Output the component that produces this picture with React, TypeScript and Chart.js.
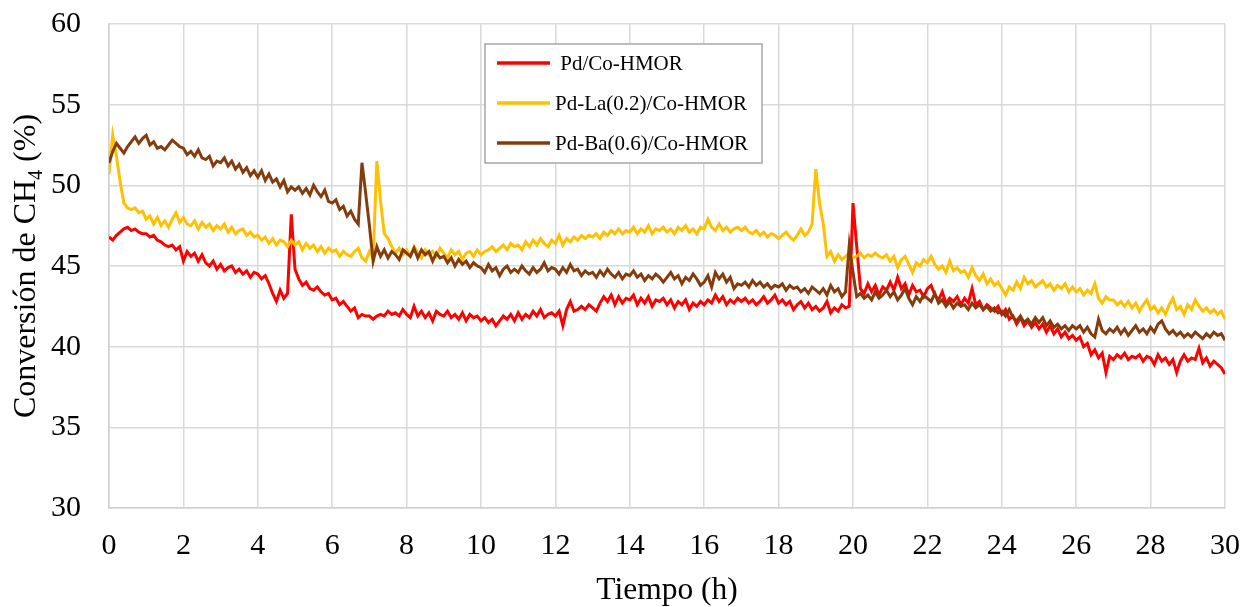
import { useEffect, useRef } from 'react';
import { Chart, registerables } from 'chart.js';

Chart.register(...registerables);

// Sampling grid: one reading every 0.1 h from 0 to 30 h
const hours: number[] = Array.from({ length: 301 }, (_, i) => Math.round(i) / 10);

const xTicks = [0, 2, 4, 6, 8, 10, 12, 14, 16, 18, 20, 22, 24, 26, 28, 30];
const yTicks = [30, 35, 40, 45, 50, 55, 60];

const seriesNames = [' Pd/Co-HMOR', 'Pd-La(0.2)/Co-HMOR', 'Pd-Ba(0.6)/Co-HMOR'];

const pdCo = [
  46.8, 46.6, 46.9, 47.1, 47.3, 47.4, 47.2, 47.3, 47.1, 47.0,
  47.0, 46.8, 46.9, 46.6, 46.5, 46.3, 46.2, 46.3, 46.0, 46.2,
  45.3, 45.9, 45.6, 45.8, 45.3, 45.7, 45.2, 45.0, 45.3, 44.8,
  45.1, 44.7, 44.9, 45.0, 44.6, 44.8, 44.5, 44.7, 44.3, 44.6,
  44.5, 44.2, 44.4, 43.9, 43.3, 42.8, 43.5, 43.0, 43.3, 48.2,
  44.8, 44.2, 43.8, 44.0, 43.6, 43.5, 43.7, 43.4, 43.2, 43.3,
  42.9, 43.0, 42.6, 42.8, 42.5, 42.2, 42.4, 41.8, 42.0, 41.9,
  41.9, 41.7, 41.9, 42.0, 41.9, 42.2, 42.0, 42.1, 41.9, 42.3,
  42.0, 41.8, 42.5, 41.9, 42.2, 41.8, 42.1, 41.6, 42.2, 42.0,
  41.9, 42.2, 41.8, 42.0, 41.7, 42.1, 41.6, 42.0, 41.8, 41.9,
  41.6, 41.8, 41.5, 41.7, 41.3, 41.6, 41.9, 41.7, 42.0, 41.6,
  42.1, 41.7, 42.0, 41.8, 42.2, 41.9, 42.3, 41.8, 42.0, 42.1,
  41.9, 42.2, 41.3, 42.3, 42.8, 42.2, 42.3, 42.5, 42.3, 42.6,
  42.4, 42.2, 42.7, 43.1, 42.8, 43.2, 42.6, 43.1, 42.7, 43.0,
  42.9, 43.2, 42.6, 43.0, 42.7, 43.1, 42.5, 42.9, 42.8, 43.0,
  42.6, 42.9, 42.4, 42.8, 42.6, 42.9, 42.3, 42.7, 42.5, 42.8,
  42.6, 42.9, 42.7, 43.2, 42.8, 43.1, 42.6, 42.9, 42.7, 43.0,
  42.8, 43.0, 42.7, 42.9, 42.6, 42.8, 43.1, 42.7, 42.9, 43.2,
  42.7, 42.9, 42.6, 42.8, 42.3, 42.6, 42.8, 42.4, 42.7, 42.3,
  42.5, 42.2, 42.4, 42.8, 42.1, 42.4, 42.2, 42.6, 42.4, 42.5,
  48.9, 46.2, 43.6, 43.3, 43.9, 43.4, 43.8, 43.2, 43.7, 43.5,
  44.0, 43.5, 44.3, 43.6, 43.9, 43.2, 43.8, 43.4, 43.5, 43.1,
  43.6, 43.8, 43.2, 42.9, 43.4, 42.7, 43.0, 42.8, 43.1, 42.6,
  43.0, 42.7, 43.6, 42.6, 42.8, 42.3, 42.6, 42.4, 42.2, 42.5,
  42.0, 42.3, 41.7, 41.9, 41.4, 41.8, 41.3, 41.6, 41.2, 41.5,
  41.1, 41.4, 40.9, 41.3, 40.8, 41.1, 40.6, 40.9, 40.5, 40.7,
  40.4, 40.6, 40.0, 40.2, 39.5, 39.8, 39.3, 39.6, 38.4, 39.4,
  39.2, 39.5, 39.3, 39.6, 39.2, 39.4, 39.3, 39.5, 39.1, 39.4,
  39.3, 38.9, 39.5, 39.1, 39.3, 38.9, 39.2, 38.4, 39.1, 39.5,
  39.1, 39.3, 39.2, 39.9, 39.0, 39.3, 38.8, 39.1, 38.9, 38.7,
  38.3,
];

const pdLa = [
  50.7, 53.1, 51.8, 50.2, 48.9, 48.6, 48.5, 48.6, 48.3, 48.4,
  47.9, 48.1, 47.6, 48.0, 47.5, 47.8, 47.4, 47.9, 48.3, 47.7,
  48.0, 47.6, 47.5, 47.8, 47.3, 47.7, 47.4, 47.6, 47.2, 47.5,
  47.3, 47.6, 47.1, 47.4, 47.0, 47.2, 47.3, 46.9, 47.1, 46.8,
  46.9, 46.6, 46.8, 46.4, 46.7, 46.3, 46.6, 46.5, 46.2, 46.6,
  46.3, 46.5, 46.0, 46.4, 46.1, 46.3, 45.9, 46.2, 45.8, 46.1,
  45.9, 46.0, 45.6, 45.9, 45.7, 45.6, 45.9, 46.1, 45.5, 45.3,
  45.9, 45.5, 51.5, 49.0, 47.0, 46.7, 46.2, 45.8, 46.1, 45.7,
  46.0, 45.6, 46.2, 45.8, 45.5, 46.0, 45.7, 45.9, 45.6, 46.1,
  45.8, 45.5, 46.0, 45.7, 45.9, 45.4, 45.8, 45.9, 45.6, 46.0,
  45.7, 45.9, 46.0, 46.2, 45.9, 46.1, 46.3, 46.0, 46.4, 46.2,
  46.3, 46.0, 46.5, 46.2, 46.6, 46.3, 46.7, 46.4, 46.2, 46.6,
  46.4, 46.9, 46.3, 46.7, 46.5, 46.8, 46.6, 46.9, 46.7, 46.9,
  46.8, 47.0, 46.7, 47.1, 46.9, 47.2, 47.0, 47.3, 47.0, 47.2,
  47.1, 47.4, 47.0, 47.3, 47.1, 47.5, 47.0, 47.3, 47.2, 47.4,
  47.1, 47.3, 47.0, 47.4, 47.2, 47.5, 47.1, 47.3, 47.0, 47.4,
  47.3, 47.9, 47.4, 47.2, 47.6, 47.2, 47.4, 47.1, 47.3, 47.4,
  47.2, 47.4, 47.1, 47.0, 47.2, 46.9, 47.1, 46.8, 47.0, 46.9,
  46.7, 46.9, 47.1, 46.8, 46.6, 46.9, 47.3, 46.9, 47.1, 47.6,
  51.0, 48.9, 47.6, 45.6, 45.9, 45.3, 45.7, 45.4, 45.6, 45.8,
  45.5, 45.6, 45.8, 45.5, 45.7, 45.6, 45.8, 45.6, 45.5, 45.7,
  45.3, 45.6, 44.9, 45.4, 45.6, 45.1, 44.6, 45.2, 45.0, 45.4,
  45.2, 45.6, 45.1, 44.8, 45.0, 44.6, 45.3, 44.7, 44.9, 44.6,
  44.7, 44.3, 44.9, 44.4, 44.1, 44.5, 43.9, 44.2, 43.8, 44.0,
  43.6, 43.2, 43.7, 43.5, 44.0, 43.6, 44.3, 43.9, 44.1, 43.7,
  43.9, 44.1, 43.7, 43.9, 43.5, 43.8, 43.6, 43.9, 43.4, 43.7,
  43.4, 43.6, 43.2, 43.5, 43.3, 43.9, 43.0, 42.7, 43.1, 42.9,
  42.9, 42.6, 42.8, 42.5, 42.8, 42.4, 42.7, 42.2, 42.6, 42.9,
  42.3, 42.5, 42.1, 42.4, 42.0, 42.6, 43.0, 42.3, 42.5, 42.0,
  42.6, 42.3, 42.9, 42.5, 42.2, 42.4, 42.1, 42.3, 42.0, 42.2,
  41.7,
];

const pdBa = [
  51.4, 52.1, 52.6, 52.3, 52.0, 52.4, 52.7, 53.0, 52.6, 52.9,
  53.1, 52.5, 52.7, 52.3, 52.4, 52.2, 52.5, 52.8, 52.6, 52.4,
  52.3, 51.9, 52.1, 51.8, 52.2, 51.7, 51.6, 51.8, 51.2, 51.5,
  51.4, 51.7, 51.2, 51.5, 51.0, 51.3, 50.8, 51.1, 50.6, 50.9,
  50.5, 50.9, 50.3, 50.7, 50.2, 50.4, 49.9, 50.3, 49.6, 49.9,
  49.7, 49.9, 49.5, 49.8, 49.4, 50.0, 49.6, 49.3, 49.7, 49.0,
  48.9, 49.1, 48.5, 48.7, 48.1, 48.4, 47.9, 47.6, 51.4, 49.5,
  47.5, 45.3, 46.2, 45.6, 46.0, 45.5, 45.9, 45.7, 45.4, 46.0,
  45.8, 45.6, 46.1, 45.5, 46.0, 45.7, 45.9, 45.3, 45.8, 45.5,
  45.6, 45.2, 45.5, 45.0, 45.4, 45.1, 45.3, 44.9, 45.2, 45.0,
  44.9, 44.6, 45.1, 44.7, 44.9, 44.4, 44.8, 45.0, 44.6, 44.8,
  44.6, 45.0, 44.7, 44.5, 44.9, 44.6, 44.8, 45.2, 44.7, 44.9,
  44.8, 44.5, 44.9, 44.6, 45.1, 44.7, 44.8, 44.4, 44.7, 44.5,
  44.6, 44.3, 44.7, 44.4, 44.8, 44.5, 44.3, 44.6, 44.2, 44.5,
  44.4, 44.7, 44.3, 44.5, 44.1, 44.4, 44.2, 44.5, 44.3, 44.0,
  44.3, 44.6, 44.2, 44.4, 43.9, 44.3, 44.1, 44.5, 44.2, 43.8,
  44.0, 44.4, 43.7, 44.6, 44.2, 44.5, 44.0, 44.3, 43.6, 43.9,
  43.8, 44.0, 43.7, 44.1, 43.8, 44.0, 43.7, 43.9, 43.6, 43.8,
  43.7, 43.9, 43.5, 43.8, 43.6, 43.7, 43.4, 43.6, 43.3, 43.7,
  43.5, 43.3, 43.6, 43.2, 43.8, 43.4, 43.6, 43.1, 43.4, 46.3,
  44.6, 43.1, 43.3, 43.0, 43.2, 42.9, 43.4, 43.0, 43.2, 43.5,
  43.1, 43.4, 42.9, 43.2, 43.6, 43.0, 42.6, 43.1, 42.8, 43.2,
  43.0, 42.8, 43.3, 42.7, 42.9, 42.5, 42.8, 42.4, 42.7, 42.5,
  42.6, 42.3, 42.7, 42.4, 42.6, 42.3, 42.5, 42.2, 42.4, 42.1,
  42.2, 41.9, 42.3, 41.8, 41.6, 41.9, 41.5, 41.7, 41.4, 41.8,
  41.5, 41.8, 41.3, 41.6, 41.2, 41.4, 41.1, 41.3, 41.0, 41.3,
  41.1, 41.3, 40.9, 41.2, 40.8, 40.6, 41.7, 41.0, 40.8, 41.1,
  40.9, 41.2, 40.8, 41.1, 40.7, 41.0, 41.3, 40.9, 41.1, 40.8,
  41.2, 40.9, 41.4, 41.6, 41.1, 40.8, 41.0, 40.7, 40.9, 40.6,
  40.8, 40.6, 40.9, 40.7, 40.5, 40.8, 40.6, 40.9, 40.7, 40.8,
  40.4,
];

const seriesValues = [pdCo, pdLa, pdBa];
const seriesColors = ['#ff0000', '#ffc000', '#843c0c'];

const SERIF = "'Liberation Serif', 'Times New Roman', serif";

const yTitlePlugin = {
  id: 'yTitleSub',
  afterDraw(chart: any) {
    const { ctx, chartArea } = chart;
    const cy = (chartArea.top + chartArea.bottom) / 2;
    const parts = [
      { t: 'Conversión de CH', size: 32, dy: 0 },
      { t: '4', size: 20, dy: 7 },
      { t: ' (%)', size: 32, dy: 0 },
    ];
    ctx.save();
    let total = 0;
    const widths = parts.map((p) => {
      ctx.font = `${p.size}px ${SERIF}`;
      const w = ctx.measureText(p.t).width;
      total += w;
      return w;
    });
    ctx.translate(35, cy);
    ctx.rotate(-Math.PI / 2);
    ctx.fillStyle = '#000';
    ctx.textBaseline = 'alphabetic';
    ctx.textAlign = 'left';
    let x = -total / 2;
    parts.forEach((p, i) => {
      ctx.font = `${p.size}px ${SERIF}`;
      ctx.fillText(p.t, x, p.dy);
      x += widths[i];
    });
    ctx.restore();
  },
};

const legendPlugin = {
  id: 'boxLegend',
  afterDraw(chart: any) {
    const { ctx } = chart;
    const bx = 485, by = 44, bw = 277, bh = 119;
    ctx.save();
    ctx.fillStyle = '#ffffff';
    ctx.fillRect(bx, by, bw, bh);
    ctx.strokeStyle = '#a6a6a6';
    ctx.lineWidth = 1.5;
    ctx.strokeRect(bx, by, bw, bh);
    ctx.font = `21px ${SERIF}`;
    ctx.textBaseline = 'middle';
    ctx.textAlign = 'left';
    chart.data.datasets.forEach((ds: any, i: number) => {
      const y = 63 + i * 40;
      ctx.strokeStyle = ds.borderColor;
      ctx.lineWidth = 3.5;
      ctx.beginPath();
      ctx.moveTo(497, y);
      ctx.lineTo(550, y);
      ctx.stroke();
      ctx.fillStyle = '#000';
      ctx.fillText(ds.label, 555, y + 1);
    });
    ctx.restore();
  },
};

export default function App() {
  const ref = useRef<HTMLCanvasElement | null>(null);

  useEffect(() => {
    document.body.style.margin = '0';
    if (!ref.current) return;
    const grid = { color: '#d9d9d9', lineWidth: 1.5, drawTicks: false };
    const chart = new Chart(ref.current, {
      type: 'line',
      data: {
        datasets: seriesValues.map((vals, i) => ({
          label: seriesNames[i],
          data: vals.map((v, j) => ({ x: hours[j], y: v })),
          borderColor: seriesColors[i],
          backgroundColor: seriesColors[i],
          borderWidth: 3,
          pointRadius: 0,
          tension: 0,
          fill: false,
          order: 3 - i,
        })),
      },
      options: {
        responsive: false,
        animation: false,
        devicePixelRatio: 1,
        layout: { padding: { top: 24, right: 18, left: 0, bottom: 0 } },
        plugins: {
          legend: { display: false },
          tooltip: { enabled: false },
          title: { display: false },
        },
        scales: {
          x: {
            type: 'linear',
            min: xTicks[0],
            max: xTicks[xTicks.length - 1],
            afterBuildTicks: (s: any) => {
              s.ticks = xTicks.map((v) => ({ value: v }));
            },
            ticks: {
              font: { family: SERIF, size: 30 },
              color: '#000',
              padding: 20,
              maxRotation: 0,
              autoSkip: false,
            },
            grid,
            border: { color: '#d0d0d0', width: 1.5 },
            title: {
              display: true,
              text: 'Tiempo (h)',
              font: { family: SERIF, size: 31.5 },
              color: '#000',
              padding: { top: 0, bottom: -3 },
            },
            afterFit: (s: any) => {
              s.height = 99;
              s.paddingLeft = 0;
              s.paddingRight = 0;
            },
          },
          y: {
            type: 'linear',
            min: yTicks[0],
            max: yTicks[yTicks.length - 1],
            afterBuildTicks: (s: any) => {
              s.ticks = yTicks.map((v) => ({ value: v }));
            },
            ticks: {
              font: { family: SERIF, size: 30 },
              color: '#000',
              padding: 28,
              autoSkip: false,
            },
            grid,
            border: { color: '#d0d0d0', width: 1.5 },
            afterFit: (s: any) => {
              s.width = 109;
              s.paddingTop = 0;
              s.paddingBottom = 0;
            },
          },
        },
      },
      plugins: [yTitlePlugin, legendPlugin],
    });
    return () => chart.destroy();
  }, []);

  return (
    <div style={{ position: 'absolute', left: 0, top: 0, width: 1243, height: 607 }}>
      <canvas ref={ref} width={1243} height={607} />
    </div>
  );
}
